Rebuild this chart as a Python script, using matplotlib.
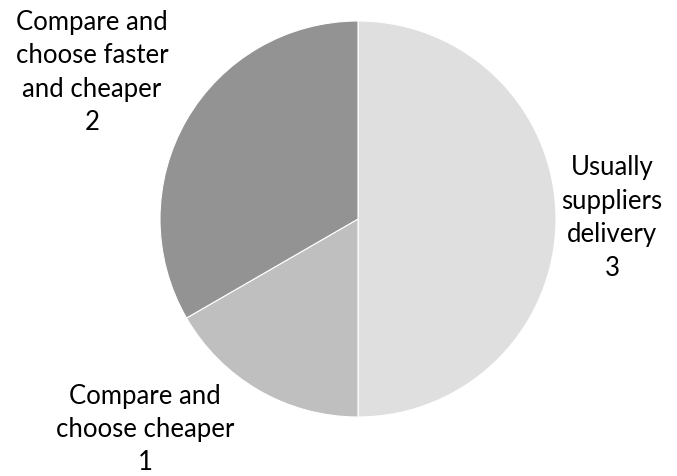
import matplotlib
matplotlib.use("Agg")
import matplotlib.pyplot as plt

categories = ["Usually\nsuppliers\ndelivery",
              "Compare and\nchoose cheaper",
              "Compare and\nchoose faster\nand cheaper"]
values = [3, 1, 2]
colors = ["#dfdfdf", "#bfbfbf", "#939393"]
# label anchor points in pie units (radius = 1)
label_pos = [(1.283, 0.01), (-1.076, -1.058), (-1.343, 0.745)]

plt.rcParams["font.family"] = ["Lato", "DejaVu Sans"]

W, H = 677, 477
fig = plt.figure(figsize=(W / 100, H / 100), dpi=100)
cx, cy, r = 358, 220, 198
ax = fig.add_axes([(cx - r) / W, (H - cy - r) / H, 2 * r / W, 2 * r / H])

ax.pie(values, colors=colors, startangle=90, counterclock=False,
       radius=1, wedgeprops=dict(edgecolor="white", linewidth=0.8))
ax.set_xlim(-1, 1)
ax.set_ylim(-1, 1)
ax.set_aspect("equal")
ax.axis("off")

for name, val, (x, y) in zip(categories, values, label_pos):
    ax.text(x, y, f"{name}\n{val}", ha="center", va="center",
            fontsize=18.5, color="#000000", linespacing=1.42, clip_on=False)

fig.savefig("out.png", dpi=100, facecolor="white")
